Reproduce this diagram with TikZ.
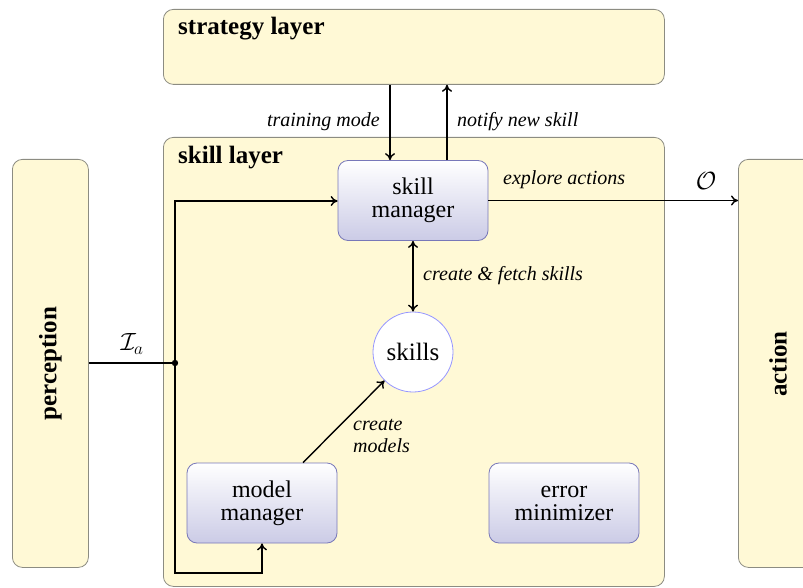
\documentclass[tikz,border=0pt]{standalone}
\usepackage{fontspec}
\setmainfont{Liberation Serif}
\usetikzlibrary{arrows.meta}
\definecolor{layerfill}{RGB}{255,249,214}
\definecolor{layerborder}{RGB}{140,140,130}
\definecolor{modborder}{RGB}{120,120,185}
\definecolor{modbottom}{RGB}{203,203,230}
\definecolor{circborder}{RGB}{150,150,255}
\tikzset{
  layer/.style={draw=layerborder, fill=layerfill, rounded corners=10pt, line width=0.8pt, inner sep=0pt},
  module/.style={draw=modborder, line width=0.8pt, top color=white, bottom color=modbottom,
    rounded corners=10pt, minimum width=150pt, minimum height=80pt, align=center,
    inner sep=0pt, font=\fontsize{24}{23}\selectfont},
  store/.style={circle, draw=circborder, line width=0.8pt, fill=white, minimum size=80pt,
    inner sep=0pt, font=\fontsize{25}{27}\selectfont},
  title/.style={inner sep=0pt, font=\fontsize{25}{27}\selectfont\bfseries},
  lbl/.style={inner sep=0pt, font=\fontsize{20}{22}\selectfont\itshape, align=left},
  mathlbl/.style={inner sep=0pt, font=\fontsize{25}{27}\selectfont},
  wire/.style={line width=1.4pt},
  conn/.style={wire, -{To[length=7pt,width=10pt]}},
  bothconn/.style={wire, {To[length=7pt,width=10pt]}-{To[length=7pt,width=10pt]}}
}
\begin{document}
\begin{tikzpicture}[x=1pt,y=-1pt]
\useasboundingbox (0,0) rectangle (803,588);
\clip (0,0) rectangle (803,588);

% layers
\node[layer, anchor=north west, minimum width=501pt, minimum height=75pt] (strat) at (163,9) {};
\node[layer, anchor=north west, minimum width=501pt, minimum height=449pt] (skl) at (163,137) {};
\node[layer, anchor=north west, minimum width=76pt, minimum height=408pt] (perc) at (12,159) {};
\node[layer, anchor=north west, minimum width=76pt, minimum height=408pt] (act) at (738,159) {};

\node[title, anchor=base west] (stratlbl) at (178,35) {strategy layer};
\node[title, anchor=base west] (skllbl) at (178,164) {skill layer};
\node[title, rotate=90] (perclbl) at (perc.center) {perception};
\node[title, rotate=90] (actlbl) at (778,364) {action};

% modules
\node[module] (sm) at (413,200.5) {skill\\manager};
\node[module] (mm) at (262,503) {model\\manager};
\node[module] (em) at (564,503) {error\\minimizer};
\node[store] (sk) at (413,352) {skills};

% connectors between layers
\coordinate (tmx) at (390,0);
\coordinate (nsx) at (447,0);
\draw[conn] (strat.south -| tmx) -- (sm.north -| tmx);
\draw[conn] (sm.north -| nsx) -- (strat.south -| nsx);
\node[lbl, anchor=base east] (tml) at (380,127) {training mode};
\node[lbl, anchor=base west] (nsl) at (457,127) {notify new skill};

% output
\draw[conn] (sm.east) -- (act.west |- sm.east);
\node[lbl, anchor=base west] (eal) at (503,185) {explore actions};
\node[mathlbl] (ol) at (706,181) {$\mathcal{O}$};

% input distribution
\coordinate (jn) at (175,363);
\coordinate (jtop) at (175,201);
\coordinate (jbot) at (175,573);
\draw[wire] (perc.east |- jn) -- (jn);
\fill (jn) circle (3.2pt);
\node[mathlbl] (ial) at (132,344) {$\mathcal{I}_a$};
\draw[conn] (jn) -- (jtop) -- (jtop -| sm.west);
\draw[conn] (jn) -- (jbot) -| (mm.south);

% skills
\draw[bothconn] (sm.south) -- (sk.north);
\node[lbl, anchor=base west] (cfl) at (423,280) {create \& fetch skills};
\draw[conn] ([xshift=41pt]mm.north) -- (sk);
\node[lbl, anchor=north west] (cml) at (353,419) {create\\models};
\end{tikzpicture}
\end{document}
